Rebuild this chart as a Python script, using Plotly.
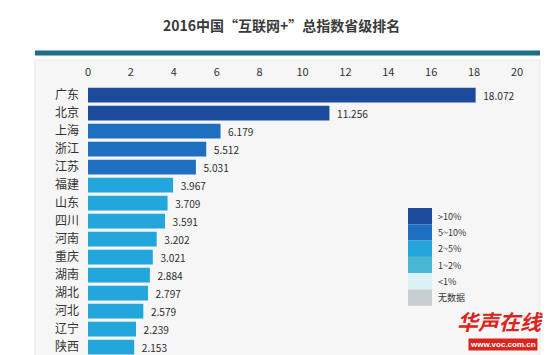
import plotly.graph_objects as go

provinces = ["广东", "北京", "上海", "浙江", "江苏", "福建", "山东", "四川",
             "河南", "重庆", "湖南", "湖北", "河北", "辽宁", "陕西"]
values = [18.072, 11.256, 6.179, 5.512, 5.031, 3.967, 3.709, 3.591,
          3.202, 3.021, 2.884, 2.797, 2.579, 2.239, 2.153]
x_ticks = [0, 2, 4, 6, 8, 10, 12, 14, 16, 18, 20]

legend_labels = [">10%", "5~10%", "2~5%", "1~2%", "<1%", "无数据"]
legend_colors = ["#1d4c9c", "#1e6fbf", "#22a6dc", "#4ab8d4", "#dcf1f6", "#c9ced3"]

# colour class per bar: index into legend_colors
bar_class = [0, 0, 1, 1, 1, 2, 2, 2, 2, 2, 2, 2, 2, 2, 2]
bar_colors = [legend_colors[c] for c in bar_class]

W, H = 550, 355
L, R, T, B = 88, 33, 85, 0
PW, PH = W - L - R, H - T - B


def px(x):
    return (x - L) / PW


def py(y):
    return (H - B - y) / PH


FONT = "Noto Sans CJK SC, Noto Sans, sans-serif"

fig = go.Figure()
fig.add_trace(go.Bar(
    x=values, y=provinces, orientation="h",
    marker=dict(color=bar_colors, line=dict(width=0)),
    width=0.82,
    text=["\u00a0\u00a0" + f"{v:.3f}" for v in values],
    textposition="outside",
    textfont=dict(size=11, color="#2e2e2e", family=FONT),
    cliponaxis=False,
    hoverinfo="skip",
))

shapes = []
# background panel
shapes.append(dict(type="rect", xref="paper", yref="paper",
                   x0=px(35), x1=px(540), y0=py(356), y1=py(60),
                   fillcolor="#f6f6f6", line=dict(color="#e8e8e8", width=1),
                   layer="below"))
# teal rule under the title
shapes.append(dict(type="line", xref="paper", yref="paper",
                   x0=px(35), x1=px(540), y0=py(53), y1=py(53),
                   line=dict(color="#1b6d8a", width=5)))

annotations = [dict(text="<b>2016中国“互联网+”总指数省级排名</b>",
                    xref="paper", yref="paper", x=px(281), y=py(25),
                    xanchor="center", yanchor="middle", showarrow=False,
                    font=dict(size=14, color="#3a3a3a", family=FONT))]

# legend block
top, step = 208, 16.3
for i, (lab, col) in enumerate(zip(legend_labels, legend_colors)):
    y0 = top + i * step
    shapes.append(dict(type="rect", xref="paper", yref="paper",
                       x0=px(408), x1=px(432), y0=py(y0 + step), y1=py(y0),
                       fillcolor=col, line=dict(width=0)))
    annotations.append(dict(text=lab, xref="paper", yref="paper",
                            x=px(436), y=py(y0 + step / 2),
                            xanchor="left", yanchor="middle", showarrow=False,
                            font=dict(size=9, color="#333333", family=FONT)))

# watermark
annotations.append(dict(text="<i><b>华声在线</b></i>", xref="paper", yref="paper",
                        x=px(500), y=py(321), xanchor="center", yanchor="middle",
                        showarrow=False,
                        font=dict(size=21, color="#d8261f", family=FONT)))
annotations.append(dict(text="<b>www.voc.com.cn</b>", xref="paper", yref="paper",
                        x=px(503), y=py(344), xanchor="center", yanchor="middle",
                        showarrow=False, bgcolor="#d8261f", borderpad=1,
                        font=dict(size=8, color="#ffffff", family="Liberation Sans, Arial")))

fig.update_layout(
    width=W, height=H,
    margin=dict(l=L, r=R, t=T, b=B),
    paper_bgcolor="#ffffff", plot_bgcolor="rgba(0,0,0,0)",
    font=dict(family=FONT, color="#333333"),
    showlegend=False,
    bargap=0.18,
    shapes=shapes, annotations=annotations,
    xaxis=dict(range=[0, 20], side="top", tickvals=x_ticks,
               showgrid=False, zeroline=False, showline=False,
               ticks="", ticklabelstandoff=6,
               tickfont=dict(size=11, color="#333333", family=FONT)),
    yaxis=dict(range=[14.444, -0.556], showgrid=False, zeroline=False,
               showline=False, ticks="", ticklabelstandoff=8,
               tickfont=dict(size=12, color="#333333", family=FONT)),
)

fig.write_html("out.html",
               config={"displayModeBar": False, "staticPlot": True},
               post_script="document.body.style.margin='0';"
                           "document.body.style.overflow='hidden';")
